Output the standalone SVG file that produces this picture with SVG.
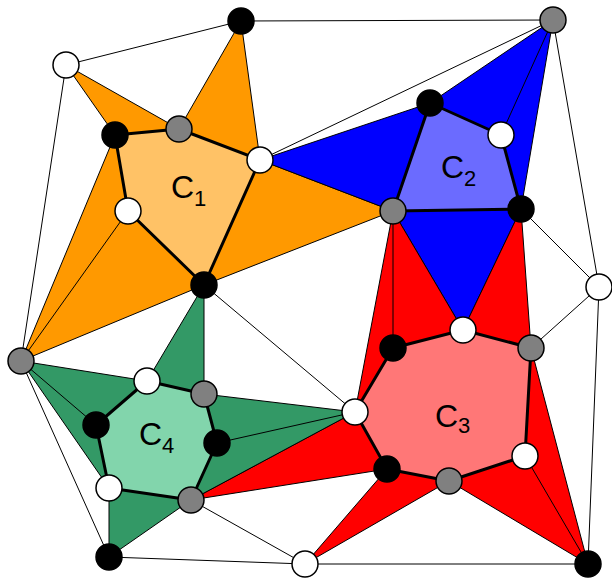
<svg xmlns="http://www.w3.org/2000/svg" width="612" height="578" viewBox="0 0 612 578">
<style>
.thin{stroke:#000;stroke-width:1;fill:none}
.star{stroke:#000;stroke-width:1;stroke-linejoin:round}
.clu{stroke:#000;stroke-width:3;stroke-linejoin:round}
.n{stroke:#000;stroke-width:1.5}
.b{fill:#000}.w{fill:#fff}.g{fill:#808080}
.lbl{font-family:"Liberation Sans",Arial,sans-serif;font-size:32px;fill:#000}
</style>
<rect width="612" height="578" fill="#fff"/>
<g id="connectors">
<line class="thin" x1="66" y1="65" x2="241" y2="21"/>
<line class="thin" x1="241" y1="21" x2="553" y2="20"/>
<line class="thin" x1="260" y1="160" x2="553" y2="20"/>
<line class="thin" x1="66" y1="65" x2="21" y2="361"/>
<line class="thin" x1="553" y1="20" x2="599" y2="287"/>
<line class="thin" x1="521" y1="209" x2="599" y2="287"/>
<line class="thin" x1="531" y1="348" x2="599" y2="287"/>
<line class="thin" x1="599" y1="287" x2="588" y2="564"/>
<line class="thin" x1="305" y1="564" x2="588" y2="564"/>
<line class="thin" x1="109" y1="557" x2="305" y2="564"/>
<line class="thin" x1="191" y1="500" x2="305" y2="564"/>
<line class="thin" x1="21" y1="361" x2="109" y2="557"/>
<line class="thin" x1="204" y1="285" x2="355" y2="412"/>
</g>
<g id="star1"><polygon class="star" fill="#FF9900" points="66,65 179,129 241,21 260,160 393,211 204,285 21,361 115,135"/><line class="thin" x1="21" y1="361" x2="128" y2="211"/></g>
<g id="star2"><polygon class="star" fill="#0000FF" points="260,160 430,103 553,20 521,209 463,330 393,211"/><line class="thin" x1="501" y1="135" x2="553" y2="20"/></g>
<g id="star3"><polygon class="star" fill="#FF0000" points="393,211 463,330 521,209 531,348 588,564 449,481 305,564 387,469 191,500 355,412"/><line class="thin" x1="393" y1="211" x2="393" y2="348"/><line class="thin" x1="525" y1="456" x2="588" y2="564"/></g>
<g id="star4"><polygon class="star" fill="#339966" points="21,361 147,381 204,285 204,394 355,412 191,500 109,557 109,488"/><line class="thin" x1="21" y1="361" x2="96" y2="425"/><line class="thin" x1="217" y1="443" x2="355" y2="412"/></g>
<g id="C1"><polygon class="clu" fill="#FFC266" points="115,135 179,129 260,160 204,285 128,211"/><text class="lbl" x="171" y="198">C<tspan font-size="22" dy="8">1</tspan></text></g>
<g id="C2"><polygon class="clu" fill="#6B6BFF" points="430,103 501,135 521,209 393,211"/><text class="lbl" x="441" y="178">C<tspan font-size="22" dy="8">2</tspan></text></g>
<g id="C3"><polygon class="clu" fill="#FF7777" points="393,348 463,330 531,348 525,456 449,481 387,469 355,412"/><text class="lbl" x="435" y="427">C<tspan font-size="22" dy="6">3</tspan></text></g>
<g id="C4"><polygon class="clu" fill="#82D5AC" points="147,381 204,394 217,443 191,500 109,488 96,425"/><text class="lbl" x="139" y="445">C<tspan font-size="22" dy="8">4</tspan></text></g>
<g id="nodes">
<circle id="n1" class="n b" cx="241" cy="21" r="13"/>
<circle id="n2" class="n w" cx="66" cy="65" r="13"/>
<circle id="n3" class="n g" cx="179" cy="129" r="13"/>
<circle id="n4" class="n b" cx="115" cy="135" r="13"/>
<circle id="n5" class="n w" cx="260" cy="160" r="13"/>
<circle id="n6" class="n w" cx="128" cy="211" r="13"/>
<circle id="n7" class="n b" cx="204" cy="285" r="13"/>
<circle id="n8" class="n g" cx="553" cy="20" r="13"/>
<circle id="n9" class="n b" cx="430" cy="103" r="13"/>
<circle id="n10" class="n w" cx="501" cy="135" r="13"/>
<circle id="n11" class="n g" cx="393" cy="211" r="13"/>
<circle id="n12" class="n b" cx="521" cy="209" r="13"/>
<circle id="n13" class="n w" cx="599" cy="287" r="13"/>
<circle id="n14" class="n g" cx="21" cy="361" r="13"/>
<circle id="n15" class="n w" cx="147" cy="381" r="13"/>
<circle id="n16" class="n g" cx="204" cy="394" r="13"/>
<circle id="n17" class="n b" cx="96" cy="425" r="13"/>
<circle id="n18" class="n b" cx="217" cy="443" r="13"/>
<circle id="n19" class="n w" cx="109" cy="488" r="13"/>
<circle id="n20" class="n g" cx="191" cy="500" r="13"/>
<circle id="n21" class="n b" cx="109" cy="557" r="13"/>
<circle id="n22" class="n w" cx="305" cy="564" r="13"/>
<circle id="n23" class="n w" cx="463" cy="330" r="13"/>
<circle id="n24" class="n b" cx="393" cy="348" r="13"/>
<circle id="n25" class="n g" cx="531" cy="348" r="13"/>
<circle id="n26" class="n w" cx="355" cy="412" r="13"/>
<circle id="n27" class="n w" cx="525" cy="456" r="13"/>
<circle id="n28" class="n b" cx="387" cy="469" r="13"/>
<circle id="n29" class="n g" cx="449" cy="481" r="13"/>
<circle id="n30" class="n b" cx="588" cy="564" r="13"/>
</g>
</svg>
